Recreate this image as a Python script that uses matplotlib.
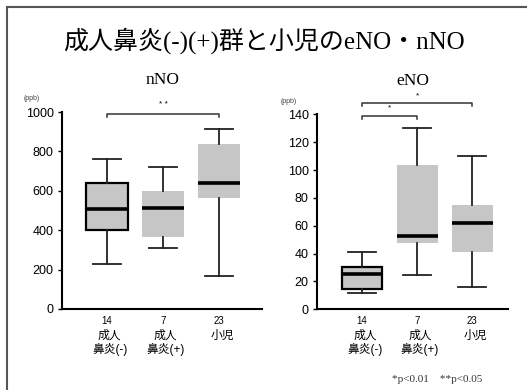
import matplotlib
matplotlib.use("Agg")
import matplotlib.pyplot as plt
from matplotlib.patches import Rectangle

plt.rcParams['font.family'] = ['Liberation Sans', 'Noto Sans CJK JP']

# group labels and n
groups = ['成人\n鼻炎(-)', '成人\n鼻炎(+)', '小児']
counts = ['14', '7', '23']

# nNO (ppb): whisker low, Q1, median, Q3, whisker high
nno_low = [230, 308, 166]
nno_q1 = [401, 367, 565]
nno_med = [509, 514, 641]
nno_q3 = [638, 597, 838]
nno_high = [761, 721, 914]

# eNO (ppb)
eno_low = [11.9, 24.6, 15.8]
eno_q1 = [14.4, 47.4, 41.4]
eno_med = [25.6, 52.8, 61.7]
eno_q3 = [30.2, 103.4, 74.9]
eno_high = [41.4, 130.4, 110.0]

serif = ['Liberation Serif', 'Noto Sans CJK JP']


def stats(low, q1, med, q3, high):
    out = []
    for i in range(len(low)):
        out.append(dict(whislo=low[i], q1=q1[i], med=med[i], q3=q3[i],
                        whishi=high[i], fliers=[]))
    return out


def draw(ax, st, ymax, ystep):
    b = ax.bxp(st, positions=[1, 2, 3], widths=0.74, capwidths=0.5,
               showfliers=False, patch_artist=True,
               boxprops=dict(facecolor='#c6c6c6', edgecolor='none'),
               medianprops=dict(color='black', linewidth=2.6),
               whiskerprops=dict(color='#222222', linewidth=1.3),
               capprops=dict(color='#222222', linewidth=1.3))
    # first group is outlined
    b['boxes'][0].set_edgecolor('black')
    b['boxes'][0].set_linewidth(1.6)
    ax.set_ylim(0, ymax)
    ax.set_yticks(range(0, ymax + 1, ystep))
    ax.set_xticks([1, 2, 3])
    ax.set_xticklabels(counts, fontsize=7)
    ax.tick_params(axis='x', length=0, pad=5)
    ax.tick_params(axis='y', length=3, width=1, pad=3, labelsize=9)
    for s in ['top', 'right']:
        ax.spines[s].set_visible(False)
    for s in ['left', 'bottom']:
        ax.spines[s].set_linewidth(1.5)
    tr = ax.get_xaxis_transform()
    for i, g in enumerate(groups):
        ax.text(i + 1.05, -0.105, g, transform=tr, ha='center', va='top',
                fontsize=8.5, linespacing=1.15)
    ax.text(-0.19, 1.05, '(ppb)', transform=ax.transAxes, fontsize=5,
            ha='left', va='bottom', color='#444444')


def bracket(ax, x1, x2, y, drop, label, ly):
    ax.plot([x1, x1, x2, x2], [y - drop, y, y, y - drop], color='#333333',
            linewidth=1.1, clip_on=False)
    ax.text((x1 + x2) / 2, ly, label, ha='center', va='center', fontsize=6)


fig = plt.figure(figsize=(5.27, 3.9), dpi=100)

# page frame
fig.patches.append(Rectangle((7 / 527, -0.05), 1.1, 1 - 7 / 390 + 0.05,
                             transform=fig.transFigure, fill=False,
                             edgecolor='#555555', linewidth=1.5))

fig.text(0.5, 0.895, '成人鼻炎(-)(+)群と小児のeNO・nNO', ha='center',
         va='center', fontsize=18, family=serif)

ax1 = fig.add_axes([0.1176, 0.2077, 0.380, 0.505])
draw(ax1, stats(nno_low, nno_q1, nno_med, nno_q3, nno_high), 1000, 200)
ax1.set_xlim(0.2, 3.77)
ax1.set_title('nNO', fontsize=12.5, family=serif, pad=20)
bracket(ax1, 1, 3, 990, 15, '* *', 1040)

ax2 = fig.add_axes([0.6015, 0.2069, 0.3624, 0.500])
draw(ax2, stats(eno_low, eno_q1, eno_med, eno_q3, eno_high), 140, 20)
ax2.set_xlim(0.18, 3.65)
ax2.set_title('eNO', fontsize=12.5, family=serif, pad=21)
bracket(ax2, 1, 2, 139, 2.4, '*', 144.6)
bracket(ax2, 1, 3, 148, 2.2, '*', 153)

fig.text(0.744, 0.028, '*p<0.01    **p<0.05', fontsize=8, family=serif,
         color='#333333', ha='left', va='center')

fig.savefig('out.png', dpi=100)
